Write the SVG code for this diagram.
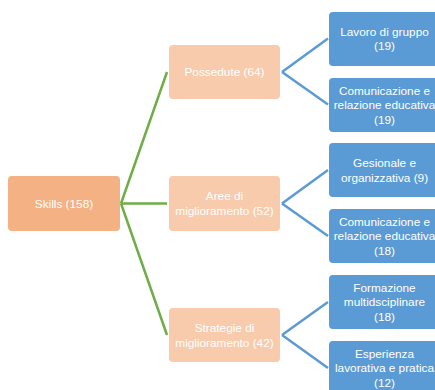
<svg xmlns="http://www.w3.org/2000/svg" width="435" height="390" viewBox="0 0 435 390">
<style>
.root{fill:#F4B183}
.mid{fill:#F8CBAD}
.leaf{fill:#5B9BD5}
text{font-family:"Liberation Sans",Arial,sans-serif;font-size:11.8px;fill:#fff;text-anchor:middle;dominant-baseline:central}
.g{stroke:#70AD47;stroke-width:2.5;fill:none}
.b{stroke:#5B9BD5;stroke-width:2.5;fill:none}
</style>
<rect width="435" height="390" fill="#fff"/>
<g id="connectors">
<path class="g" d="M121,203.5 L167,72 M121,203.5 L167,203.5 M121,203.5 L167,335"/>
<path class="b" d="M282,72 L328,38.5 M282,72 L328,104.5"/>
<path class="b" d="M282,203.5 L328,170 M282,203.5 L328,236"/>
<path class="b" d="M282,335 L328,302 M282,335 L328,368"/>
</g>
<g id="skills">
<rect class="root" x="8" y="176" width="112" height="55" rx="4"/>
<text x="64" y="203.5">Skills (158)</text>
</g>
<g id="possedute">
<rect class="mid" x="169" y="45" width="111" height="54" rx="4"/>
<text x="224.5" y="72">Possedute (64)</text>
</g>
<g id="aree">
<rect class="mid" x="169" y="176" width="111" height="55" rx="4"/>
<text x="224.5" y="196">Aree di</text>
<text x="224.5" y="211">miglioramento (52)</text>
</g>
<g id="strategie">
<rect class="mid" x="169" y="308" width="111" height="54" rx="4"/>
<text x="224.5" y="327.5">Strategie di</text>
<text x="224.5" y="342.5">miglioramento (42)</text>
</g>
<g id="lavoro">
<rect class="leaf" x="329" y="12" width="111" height="54" rx="4"/>
<text x="384.5" y="31.5">Lavoro di gruppo</text>
<text x="384.5" y="46">(19)</text>
</g>
<g id="comunicazione1">
<rect class="leaf" x="329" y="78" width="111" height="54" rx="4"/>
<text x="384.5" y="90.5">Comunicazione e</text>
<text x="384.5" y="105">relazione educativa</text>
<text x="384.5" y="119.5">(19)</text>
</g>
<g id="gesionale">
<rect class="leaf" x="329" y="143" width="111" height="54" rx="4"/>
<text x="384.5" y="162.5">Gesionale e</text>
<text x="384.5" y="177.5">organizzativa (9)</text>
</g>
<g id="comunicazione2">
<rect class="leaf" x="329" y="209" width="111" height="54" rx="4"/>
<text x="384.5" y="221.5">Comunicazione e</text>
<text x="384.5" y="236">relazione educativa</text>
<text x="384.5" y="250.5">(18)</text>
</g>
<g id="formazione">
<rect class="leaf" x="329" y="275" width="111" height="54" rx="4"/>
<text x="384.5" y="287.5">Formazione</text>
<text x="384.5" y="302">multidsciplinare</text>
<text x="384.5" y="316.5">(18)</text>
</g>
<g id="esperienza">
<rect class="leaf" x="329" y="341" width="111" height="54" rx="4"/>
<text x="384.5" y="353.5">Esperienza</text>
<text x="384.5" y="368">lavorativa e pratica</text>
<text x="384.5" y="382.5">(12)</text>
</g>
</svg>
